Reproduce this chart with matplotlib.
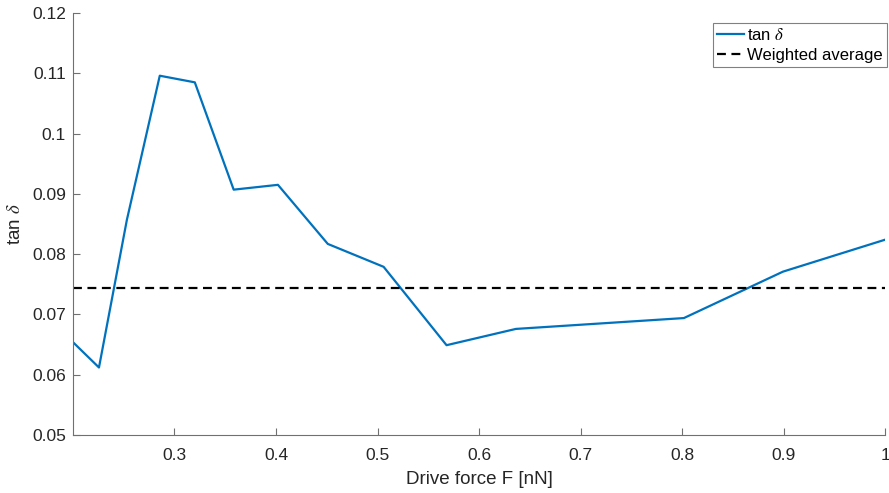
import matplotlib.pyplot as plt

plt.rcParams['font.family'] = ['Liberation Sans', 'DejaVu Sans']
plt.rcParams['mathtext.fontset'] = 'stix'

# Loss tangent against drive force
force = [0.200, 0.2256, 0.2531, 0.2855, 0.320, 0.3583, 0.4019, 0.451,
         0.506, 0.568, 0.6363, 0.8018, 0.8994, 1.000]
tan_delta = [0.0654, 0.0612, 0.0857, 0.1096, 0.1085, 0.0907, 0.0915, 0.0817,
             0.0779, 0.0649, 0.0676, 0.0694, 0.0771, 0.0824]
weighted_avg = 0.0744

x_ticks = [0.3, 0.4, 0.5, 0.6, 0.7, 0.8, 0.9, 1.0]
x_ticklabels = ['0.3', '0.4', '0.5', '0.6', '0.7', '0.8', '0.9', '1']
y_ticks = [0.05, 0.06, 0.07, 0.08, 0.09, 0.10, 0.11, 0.12]
y_ticklabels = ['0.05', '0.06', '0.07', '0.08', '0.09', '0.1', '0.11', '0.12']

fig = plt.figure(figsize=(8.89, 4.93), dpi=100, facecolor='white')
ax = fig.add_axes([0.0821, 0.1176, 0.9135, 0.856])

ax.plot(force, tan_delta, color='#0072BD', linewidth=1.6, label=r'tan $\delta$')
ax.plot([min(force), max(force)], [weighted_avg, weighted_avg], color='black',
        linestyle=(0, (4, 2.5)), linewidth=1.6, label='Weighted average')

ax.set_xlim(0.2, 1.0)
ax.set_ylim(0.05, 0.12)
ax.set_xticks(x_ticks)
ax.set_xticklabels(x_ticklabels)
ax.set_yticks(y_ticks)
ax.set_yticklabels(y_ticklabels)

for side in ['top', 'right']:
    ax.spines[side].set_visible(False)
for side in ['left', 'bottom']:
    ax.spines[side].set_color('#707070')
    ax.spines[side].set_linewidth(0.8)
ax.tick_params(direction='in', length=5, width=0.8, color='#707070',
               labelcolor='#262626', labelsize=12.5)
ax.tick_params(axis='x', pad=9)
ax.tick_params(axis='y', pad=5)

ax.set_xlabel('Drive force F [nN]', fontsize=13.5, color='#262626', labelpad=6)
ax.set_ylabel(r'tan $\delta$', fontsize=13.5, color='#262626', labelpad=6)

leg = ax.legend(loc='upper right', bbox_to_anchor=(1.002, 0.977), fontsize=12,
                handlelength=1.6, handletextpad=0.2, borderpad=0.25,
                labelspacing=0.3, borderaxespad=0.0, fancybox=False,
                framealpha=1)
leg.get_frame().set_edgecolor('#808080')
leg.get_frame().set_linewidth(0.8)

fig.savefig('out.png', dpi=100, facecolor='white')
plt.close(fig)
